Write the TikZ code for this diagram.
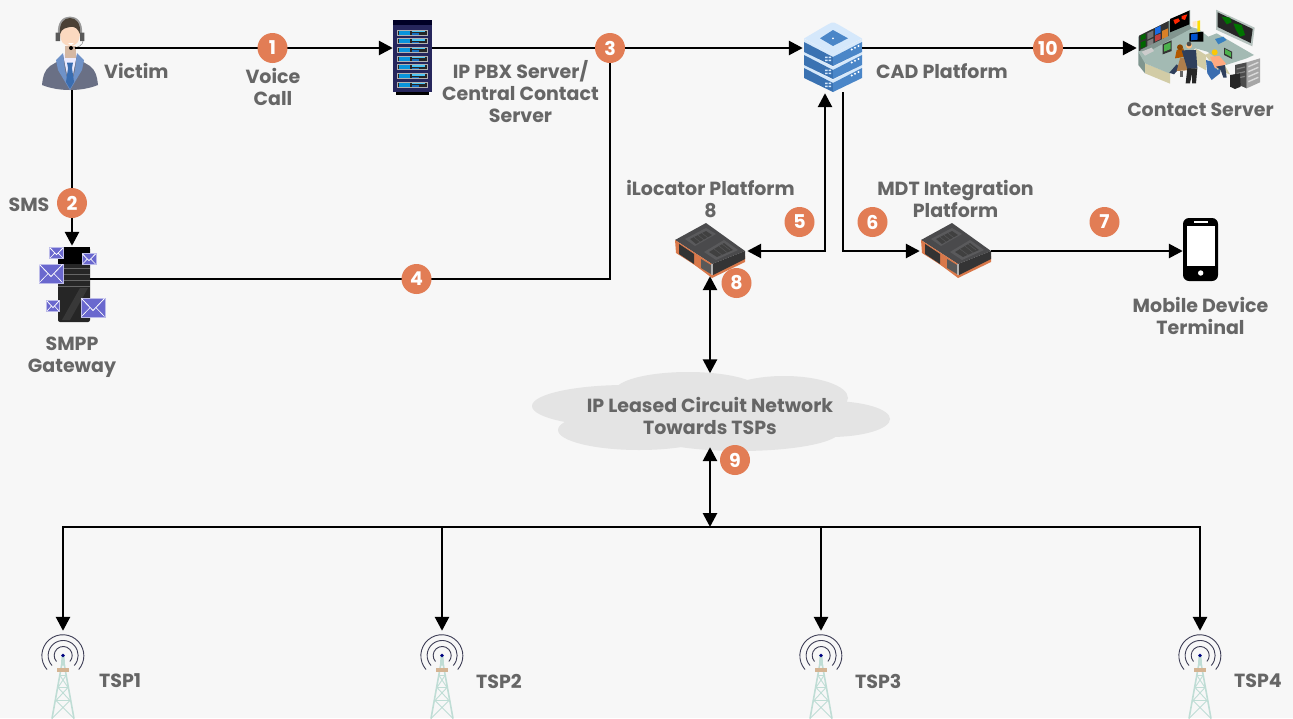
\documentclass[tikz,border=0pt]{standalone}
\usepackage{fontspec}
\setmainfont{Poppins}[BoldFont={Poppins Bold}]
\usetikzlibrary{arrows.meta}
\definecolor{bgc}{HTML}{F7F7F7}
\definecolor{txt}{HTML}{666666}
\definecolor{badgec}{HTML}{E27D55}
\definecolor{cloudc}{HTML}{E4E4E4}
\definecolor{env}{HTML}{6A68CE}
\definecolor{stackL}{HTML}{3A72B2}
\definecolor{stackR}{HTML}{4A86C8}
\definecolor{stackT}{HTML}{D5E8FB}
\definecolor{devd}{HTML}{4A4A4C}
\definecolor{devo}{HTML}{D9784A}
\definecolor{towc}{HTML}{BFDDD5}
\definecolor{towarc}{HTML}{3D3D55}
\definecolor{suit}{HTML}{6A7085}
\definecolor{lapel}{HTML}{6F92C8}
\definecolor{skin}{HTML}{FBD9C0}
\definecolor{hair}{HTML}{4A4035}
\definecolor{tie}{HTML}{3A6DB0}
\definecolor{desk}{HTML}{A3BAB3}
\definecolor{deskd}{HTML}{7F968F}
\definecolor{beige}{HTML}{D2CCA6}
\definecolor{navy}{HTML}{2F3F5C}
\definecolor{frameg}{HTML}{B5C2BE}
\tikzset{
  x=1pt,y=-1pt,
  lbl/.style={font=\bfseries\fontsize{19}{22}\selectfont,text=txt,align=center,inner sep=0pt},
  badge/.style={circle,fill=badgec,text=white,inner sep=0pt,minimum size=30pt,font=\bfseries\fontsize{19}{19}\selectfont},
  iconbox/.style 2 args={rectangle,inner sep=0pt,minimum width=#1pt,minimum height=#2pt},
  wire/.style={line width=2.7pt,black},
  arr/.style={wire,-{Triangle[length=14pt,width=14pt]}},
  dbl/.style={wire,{Triangle[length=14pt,width=14pt]}-{Triangle[length=14pt,width=14pt]}},
  pics/device/.style={code={
    \fill[devo] (1,28) -- (37,52) -- (70,33) -- (70,39) -- (37,55) -- cycle;
    \fill[devd] (0,17) -- (31,0) -- (70,28) -- (37,41) -- cycle;
    \fill[devd!70!black] (37,41) -- (70,28) -- (70,36) -- (38,52) -- cycle;
    \fill[devo] (0,17) -- (37,41) -- (37,53) -- (1,30) -- cycle;
    \fill[black!80] (4,21) -- (19,31) -- (19,41) -- (4,31) -- cycle;
    \fill[gray!70!black] (26,36) -- (36,42) -- (36,51) -- (26,45) -- cycle;
    \fill[gray!60] (36,41) -- (38,41) -- (38,52) -- (36,52) -- cycle;
    \fill[devd!70!gray] (10,16) -- (31,5) -- (41,11) -- (20,23) -- cycle;
    \fill[devd!70!gray] (29,29) -- (49,17) -- (63,27) -- (41,37) -- cycle;
    \fill[black!75] (15,16) -- (31,8) -- (37,12) -- (21,21) -- cycle;
    \fill[black!75] (34,29) -- (49,20) -- (58,27) -- (42,34) -- cycle;
    \draw[devd!70!gray,line width=.4pt] (19,14) -- (25,19) (23,12) -- (29,17) (27,10) -- (33,15)
      (39,26) -- (47,32) (44,23) -- (52,29.5) (47,21) -- (55,27);
  }},
  pics/envelope/.style 2 args={code={
    \fill[env!45!white] (-#1/2-1,-#2/2-1) rectangle (#1/2+1,#2/2+1);
    \fill[env] (-#1/2,-#2/2) rectangle (#1/2,#2/2);
    \draw[white,line width=.8pt] (-#1/2,-#2/2) -- (0,#2/6) -- (#1/2,-#2/2);
    \draw[white,line width=.6pt] (-#1/2,#2/2) -- (-#1/8,0) (#1/2,#2/2) -- (#1/8,0);
  }},
  pics/tower/.style={code={
    \draw[towc,line width=1.6pt] (0,2) -- (-11,63) (0,2) -- (11,63);
    \draw[towc,line width=.9pt] (-3,20) -- (3,20) (-5,32) -- (5,32) (-7,45) -- (7,45)
       (-3,20) -- (5,32) (3,20) -- (-5,32) (-5,32) -- (7,45) (5,32) -- (-7,45) (-7,45) -- (11,63) (7,45) -- (-11,63);
    \fill[towc] (-1.5,-1) -- (1.5,-1) -- (2,10) -- (-2,10) -- cycle;
    \fill[orange!30!bgc!85!black] (-6,12) rectangle (6,16);
    \draw[towarc,line width=.9pt] (-16,14) arc[start angle=139,end angle=401,radius=21];
    \draw[towarc,line width=.9pt] (-11,10) arc[start angle=138,end angle=402,radius=15];
    \draw[towarc,line width=.9pt] (-6.5,6) arc[start angle=138,end angle=402,radius=9];
    \fill[blue!50!black] (0,0) circle (1.8);
  }}
}
\begin{document}
\begin{tikzpicture}
\useasboundingbox (0,0) rectangle (1293,718);
\fill[bgc] (0,0) rectangle (1293,718);

% --- cloud
\node[iconbox={358}{79}] (cloud) at (710,412) {};
\fill[cloudc] (626,406) ellipse[x radius=94,y radius=21]
  (688,391) ellipse[x radius=73,y radius=19]
  (784,398) ellipse[x radius=64,y radius=22]
  (830,419) ellipse[x radius=60,y radius=18]
  (639,430) ellipse[x radius=81,y radius=20]
  (740,431) ellipse[x radius=100,y radius=20]
  (710,410) ellipse[x radius=100,y radius=25];

% --- named icon boxes
\node[iconbox={56}{73}] (victim) at (70,53.5) {};
\node[iconbox={39}{75}] (rack) at (412.5,57.5) {};
\node[iconbox={32}{76}] (smpp) at (74,284) {};
\node[iconbox={58}{70}] (cad) at (833,57) {};
\node[iconbox={125}{78}] (room) at (1199.5,49) {};
\node[iconbox={70}{53}] (devA) at (710,249.5) {};
\node[iconbox={70}{53}] (devB) at (956,249.5) {};
\node[iconbox={35}{63}] (phone) at (1200.5,249.5) {};
\node[iconbox={42}{87}] (towA) at (63,674.5) {};
\node[iconbox={42}{87}] (towB) at (442,674.5) {};
\node[iconbox={42}{87}] (towC) at (821,674.5) {};
\node[iconbox={42}{87}] (towD) at (1200,674.5) {};

% --- victim (agent)
\fill[suit] (42,85) .. controls (43,75) and (45,70) .. (50,66) -- (60,60) -- (64,54) -- (76,54) -- (80,60) -- (90,66) .. controls (95,70) and (97,75) .. (98,85) .. controls (88,89) and (78,90) .. (70,90) .. controls (62,90) and (52,89) .. (42,85) -- cycle;
\fill[white!92!blue] (63,54) -- (77,54) -- (70,90) -- cycle;
\fill[lapel] (63,53) -- (56,60) -- (58,70) -- (70,90) -- (65,70) -- cycle;
\fill[lapel] (77,53) -- (84,60) -- (82,70) -- (70,90) -- (75,70) -- cycle;
\fill[tie] (67,62.5) -- (73,62.5) -- (72,68) -- (74,82) -- (70,89) -- (66,82) -- (68,68) -- cycle;
\fill[skin!85!black] (65,46) rectangle (76,58);
\fill[black!40] (58,34) .. controls (57,22) and (63,16.5) .. (70,16.5) .. controls (77,16.5) and (83,22) .. (82,34) -- cycle;
\fill[skin] (60,32) .. controls (60,42) and (64,46) .. (70,46) .. controls (76,46) and (80,42) .. (80,32) .. controls (80,24) and (60,24) .. (60,32) -- cycle;
\fill[white] (68,43) -- (74,43) -- (71,45) -- cycle;
\fill[hair] (60,34) .. controls (59,23) and (64,18) .. (70,18) .. controls (76,18) and (81,23) .. (80,34) .. controls (78,29) and (75,26) .. (70,27) .. controls (66,28) and (62,28) .. (60,34) -- cycle;
\fill[black!65] (55.7,32.7) rectangle (60,41) (80,32.7) rectangle (84.3,41);
\draw[black!50,line width=.5pt] (83,41) .. controls (83,45) and (78,48) .. (72,48);
\fill[black] (71,48) circle (2);

% --- rack
\fill[black!70!blue!70!gray] (393,20) rectangle (432,92);
\fill[black!85!blue] (393,20) rectangle (432,25);
\fill[black] (396,92) rectangle (429,95);
\foreach \yy in {29.5,38.2,46.9,55.6,64.3,73,81.7}{
  \fill[gray!60] (397,\yy) rectangle (428,\yy+6);
  \fill[black!85] (398,\yy+1) rectangle (427,\yy+5);
  \fill[cyan!80!blue] (398.5,\yy+1) rectangle (410,\yy+5);
  \fill[cyan!70] (412,\yy+1) rectangle (425,\yy+2.5);
  \fill[cyan!50!blue] (412,\yy+3.5) rectangle (419,\yy+5);
}

% --- smpp gateway
\fill[black!85,rounded corners=2pt] (58,247) rectangle (90,322);
\fill[black] (58,247) rectangle (90,264);
\draw[black!60,line width=.6pt] (58,268) -- (90,268) (58,274) -- (90,274) (58,280) -- (90,280) (58,286) -- (90,286);
\fill[black!78] (62,320) -- (80,288) -- (88,288) -- (70,320) -- cycle;
\pic at (56.5,253) {envelope={13}{10}};
\pic at (89,259) {envelope={13}{10}};
\pic at (51,273.5) {envelope={23}{18}};
\pic at (53,306) {envelope={12}{10}};
\pic at (93,307.5) {envelope={23}{18}};

% --- CAD stack
\foreach \dy in {26,13,0}{
  \fill[stackT] (804,39+\dy) -- (833,54+\dy) -- (862,39+\dy) -- (862,42+\dy) -- (833,57+\dy) -- (804,42+\dy) -- cycle;
  \fill[stackL] (804,42+\dy) -- (833,57+\dy) -- (833,66+\dy) -- (804,52+\dy) -- cycle;
  \fill[stackR] (862,42+\dy) -- (833,57+\dy) -- (833,66+\dy) -- (862,52+\dy) -- cycle;
  \fill[white] (851.7,49.5+\dy) circle (1.1) (855,47.8+\dy) circle (1.1) (858.5,46+\dy) circle (1.1);
  \fill[stackT] (825,56.5+\dy) rectangle (827.5,58+\dy) (828.5,56.5+\dy) rectangle (831,58+\dy)
                (825,59.5+\dy) rectangle (827.5,61+\dy) (828.5,59.5+\dy) rectangle (831,61+\dy);
}
\fill[stackT] (833,22.5) .. controls (835,22.5) .. (862,38.5) -- (833,54) -- (804,38.5) .. controls (831,22.5) .. (833,22.5) -- cycle;
\fill[stackR] (833,30) -- (848,38.3) -- (833,46) -- (820,38.3) -- cycle;
\fill[white] (833,38.3) circle (1);

% --- control room (drawn in zoom-crop units)
\begin{scope}[shift={(1130,5)},scale=1/3]
\fill[deskd] (25,95) -- (180,15) -- (180,70) -- (25,140) -- cycle;
\fill[black!80] (27,92) -- (116,48) -- (116,102) -- (27,140) -- cycle;
\fill[black!55] (52,85) -- (70,76) -- (70,95) -- (52,104) -- cycle;
\fill[blue!60!cyan!80!gray] (75,70) -- (92,62) -- (92,82) -- (75,90) -- cycle;
\fill[orange!70!gray] (96,78) -- (114,70) -- (114,96) -- (96,102) -- cycle;
\fill[gray] (52,108) -- (70,100) -- (70,118) -- (52,126) -- cycle;
\fill[black!60!green] (32,92) -- (47,85) -- (47,100) -- (32,107) -- cycle;
\fill[black!60!green] (32,112) -- (47,106) -- (47,124) -- (32,130) -- cycle;
\fill[red!50!gray] (75,92) -- (92,86) -- (92,102) -- (75,110) -- cycle;
\fill[black] (120,42) -- (178,17) -- (178,58) -- (120,82) -- cycle;
\fill[red!70!orange] (130,45) -- (145,40) -- (150,48) -- (135,58) -- cycle;
\fill[red!70!orange] (155,33) -- (172,28) -- (165,45) -- (155,42) -- cycle;
% desks
\fill[deskd] (25,140) -- (45,170) -- (45,205) -- (25,180) -- cycle;
\fill[beige] (45,175) -- (120,205) -- (120,236) -- (45,205) -- cycle;
\fill[beige] (196,130) -- (228,150) -- (228,196) -- (196,178) -- cycle;
\fill[beige] (225,150) -- (258,135) -- (300,208) -- (262,196) -- cycle;
\fill[desk] (25,140) -- (180,65) -- (205,72) -- (235,95) -- (260,85) -- (372,150) -- (350,160) -- (288,180) -- (232,140) -- (196,130) -- (120,206) -- (45,175) -- cycle;
\fill[desk!80!black] (30,135) -- (180,62) -- (185,70) -- (45,145) -- cycle;
\fill[white!60!gray] (35,140) -- (65,128) -- (72,138) -- (45,152) -- cycle;
% big screen
\fill[frameg] (258,14) -- (374,68) -- (367,124) -- (258,74) -- cycle;
\fill[black!85] (263,22) -- (368,72) -- (362,114) -- (263,66) -- cycle;
\fill[green!45!black] (275,35) -- (300,38) -- (305,52) -- (290,58) -- cycle;
\fill[green!45!black] (310,55) -- (335,60) -- (345,90) -- (330,95) -- (318,75) -- cycle;
% centre monitor, note
\fill[black] (178,85) -- (220,80) -- (220,110) -- (178,110) -- cycle;
\fill[blue!60!cyan!80!black] (183,88) -- (203,86) -- (203,104) -- (183,106) -- cycle;
\fill[white!80!orange] (188,50) -- (200,48) -- (200,64) -- (188,66) -- cycle;
\fill[yellow!80!orange] (202,48) -- (210,46) -- (210,78) -- (202,80) -- cycle;
\fill[cyan!60!blue!80!gray] (255,102) -- (280,95) -- (290,105) -- (265,118) -- cycle;
% small monitors
\fill[black!80] (98,118) -- (125,106) -- (125,138) -- (98,148) -- cycle;
\fill[green!40!gray] (102,120) -- (122,112) -- (122,132) -- (102,140) -- cycle;
\fill[black!80] (282,128) -- (306,140) -- (306,162) -- (282,150) -- cycle;
\fill[green!40!gray] (285,132) -- (303,142) -- (303,156) -- (285,146) -- cycle;
% seated person left and chair
\fill[navy] (118,203) -- (140,178) -- (150,188) -- (132,208) -- cycle;
\fill[orange!55!black!70] (150,160) -- (178,155) -- (172,196) -- (140,198) -- cycle;
\fill[black!60] (150,198) rectangle (158,215);
\fill[orange!70!black] (140,135) -- (160,130) -- (168,155) -- (135,160) -- cycle;
\fill[orange!55!black] (150,127) circle (9);
% standing person
\fill[navy] (155,136) -- (198,135) -- (202,190) -- (172,192) -- cycle;
\fill[black!85] (172,190) -- (202,190) -- (198,235) -- (186,235) -- (186,206) -- (180,235) -- (167,235) -- cycle;
\fill[orange!50!white] (177,122) circle (9);
\fill[black!70] (177,117) circle (7);
% right person and chair
\fill[tie] (228,165) -- (245,170) -- (262,195) -- (272,190) -- (270,205) -- (245,225) -- (232,205) -- cycle;
\fill[red!35!orange!50!white] (240,155) -- (268,153) -- (288,176) -- (280,182) -- (255,190) -- cycle;
\fill[navy] (258,185) -- (285,180) -- (290,218) -- (280,218) -- (272,195) -- cycle;
\fill[yellow!60!orange] (254,142) circle (9);
% racks
\fill[gray!70] (350,172) -- (390,160) -- (390,232) -- (350,250) -- cycle;
\fill[black!70] (315,180) -- (350,172) -- (350,250) -- (315,235) -- cycle;
\draw[white!70!gray,line width=1.4pt] (355,185) -- (385,172) (355,200) -- (385,187) (355,215) -- (385,202) (355,230) -- (385,217);
\draw[gray,line width=1.2pt] (320,192) -- (345,186) (320,206) -- (345,200) (320,220) -- (345,214);
\fill[black!85] (300,210) -- (330,205) -- (332,245) -- (315,252) -- (300,245) -- cycle;
\end{scope}

% --- routers
\pic at (675,223) {device};
\pic at (921,223) {device};

% --- phone
\fill[black,rounded corners=6pt] (1183,218) rectangle (1218,281);
\fill[white] (1186.5,226) rectangle (1215,266);
\fill[white] (1194,221) rectangle (1208,223);
\fill[white] (1200.7,273) circle (2.7);

% --- towers
\pic at (63,655.5) {tower};
\pic at (442,655.5) {tower};
\pic at (821,655.5) {tower};
\pic at (1200,655.5) {tower};

% --- junction coordinates
\coordinate (j3) at (610,48);
\coordinate (corner4) at (610,279);
\coordinate (busL) at (63,527);
\coordinate (busR) at (1200,527);
\coordinate (busM) at (710,527);
\coordinate (bus2) at (442,527);
\coordinate (bus3) at (821,527);
\coordinate (elbow5) at (825,251);
\coordinate (elbow6) at (843,251);

% --- connectors
\draw[arr] ([xshift=-23pt,yshift=5.5pt]victim.east) -- ([yshift=9.5pt]rack.west);
\draw[arr] ([yshift=9.5pt]rack.east) -- ([yshift=9pt,xshift=-1pt]cad.west);
\draw[arr] ([yshift=9pt]cad.east) -- ([yshift=1pt]room.west);
\draw[arr] ([xshift=2pt]victim.south) -- ([xshift=-2pt]smpp.north);
\draw[wire] ([yshift=5pt]smpp.east) -- (corner4) -- (j3);
\draw[dbl] ([xshift=-8pt,yshift=-1pt]cad.south) -- (elbow5) -- ([xshift=2pt,yshift=-1.5pt]devA.east);
\draw[arr] ([xshift=10pt]cad.south) -- (elbow6) -- ([xshift=-1pt,yshift=-1.5pt]devB.west);
\draw[arr] ([yshift=-1.5pt]devB.east) -- ([yshift=-1.5pt]phone.west);
\draw[dbl] (devA.south) -- ([yshift=-1pt]cloud.north);
\draw[dbl] ([yshift=4.5pt]cloud.south) -- (busM);
\draw[wire,line cap=rect] (busL) -- (busR);
\draw[arr] (busL) -- (towA.north);
\draw[arr] (bus2) -- (towB.north);
\draw[arr] (bus3) -- (towC.north);
\draw[arr] (busR) -- (towD.north);

% --- badges
\node[badge] (b1) at (272.5,48) {1};
\node[badge] (b2) at (72,203) {2};
\node[badge] (b3) at (610,48) {3};
\node[badge] (b4) at (416.5,279) {4};
\node[badge] (b5) at (799.5,222) {5};
\node[badge] (b6) at (872.5,222) {6};
\node[badge] (b7) at (1104.5,222) {7};
\node[badge] (b8) at (736.5,283) {8};
\node[badge] (b9) at (735,460) {9};
\node[badge] (b10) at (1048,48) {10};

% --- labels
\node[lbl,anchor=west] (lVictim) at (104,71) {Victim};
\node[lbl] (lVoice) at (273,87) {Voice\\Call};
\node[lbl] (lPbx) at (520.5,91.5) {IP PBX Server/\\Central Contact\\Server};
\node[lbl] (lSms) at (29,204.5) {SMS};
\node[lbl] (lSmpp) at (72,357) {SMPP\\Gateway};
\node[lbl] (lIloc) at (710.5,199.5) {iLocator Platform\\8};
\node[lbl] (lMdt) at (955.5,199) {MDT Integration\\Platform};
\node[lbl] (lCad) at (942,71) {CAD Platform};
\node[lbl] (lContact) at (1200.5,109.5) {Contact Server};
\node[lbl] (lMobile) at (1200.5,316) {Mobile Device\\Terminal};
\node[lbl] (lCloud) at (710,416) {IP Leased Circuit Network\\Towards TSPs};
\node[lbl,anchor=west] (lT1) at (99,681) {TSP1};
\node[lbl,anchor=west] (lT2) at (476,681) {TSP2};
\node[lbl,anchor=west] (lT3) at (855,681) {TSP3};
\node[lbl,anchor=west] (lT4) at (1234,681) {TSP4};
\end{tikzpicture}
\end{document}
